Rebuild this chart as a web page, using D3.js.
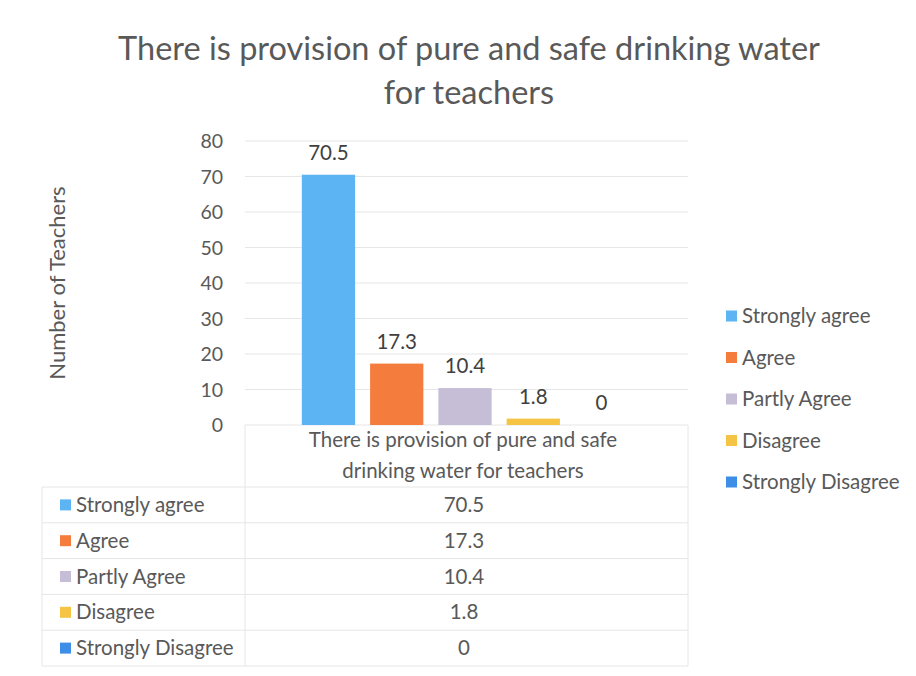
<!DOCTYPE html>
<html>
<head>
<meta charset="utf-8">
<script src="https://cdn.jsdelivr.net/npm/d3@7"></script>
<style>
  body { margin: 0; background: #fff; }
  text { font-family: Lato, "Open Sans", sans-serif; fill: #595959; }
</style>
</head>
<body>
<div id="chart"></div>
<script>
// chart data
var categories = ["Strongly agree", "Agree", "Partly Agree", "Disagree", "Strongly Disagree"];
var values = [70.5, 17.3, 10.4, 1.8, 0];
var colours = ["#5cb4f2", "#f47d3d", "#c6bed6", "#f6c444", "#3d8ee6"];
var yTicks = [0, 10, 20, 30, 40, 50, 60, 70, 80];
var groupLabel = ["There is provision of pure and safe", "drinking water for teachers"];
var titleLines = ["There is provision of pure and safe drinking water", "for teachers"];

var width = 916, height = 676;
var plot = {left: 245, right: 688, top: 141, bottom: 425};

var svg = d3.select("#chart").append("svg")
  .attr("width", width)
  .attr("height", height);

// title
svg.append("g").selectAll("text")
  .data(titleLines)
  .enter().append("text")
  .attr("x", 469)
  .attr("y", function(d, i) { return 60 + i * 44; })
  .attr("text-anchor", "middle")
  .style("font-size", "32.5px")
  .text(function(d) { return d; });

var y = d3.scaleLinear().domain([0, 80]).range([plot.bottom, plot.top]);

var x = d3.scaleBand()
  .domain(categories)
  .range([295, 635])
  .paddingInner(0.22)
  .paddingOuter(0.1);

// gridlines
svg.append("g").selectAll("line")
  .data(yTicks)
  .enter().append("line")
  .attr("x1", plot.left).attr("x2", plot.right)
  .attr("y1", function(d) { return y(d); })
  .attr("y2", function(d) { return y(d); })
  .attr("stroke", "#e6e6e6");

// y axis labels
var yAxis = d3.axisLeft(y).tickValues(yTicks).tickSize(0).tickPadding(0);
var ya = svg.append("g")
  .attr("transform", "translate(223,0)")
  .call(yAxis);
ya.select(".domain").remove();
ya.selectAll("text").style("font-size", "19.5px").attr("fill", "#595959").attr("dy", "0.35em")
  .style("font-family", "Lato, 'Open Sans', sans-serif");

svg.append("text")
  .attr("transform", "translate(65,283) rotate(-90)")
  .attr("text-anchor", "middle")
  .style("font-size", "22px")
  .text("Number of Teachers");

// bars
svg.append("g").selectAll("rect")
  .data(values)
  .enter().append("rect")
  .attr("x", function(d, i) { return x(categories[i]); })
  .attr("width", x.bandwidth())
  .attr("y", function(d) { return y(d); })
  .attr("height", function(d) { return y(0) - y(d); })
  .attr("fill", function(d, i) { return colours[i]; });

svg.append("g").selectAll("text")
  .data(values)
  .enter().append("text")
  .attr("x", function(d, i) { return x(categories[i]) + x.bandwidth() / 2; })
  .attr("y", function(d) { return y(d) - 15; })
  .attr("text-anchor", "middle")
  .style("font-size", "20.5px")
  .style("fill", "#404040")
  .text(function(d) { return d; });

// data table
var rowH = 35.8;
var tableTop = 487;
var tableLeft = 42;
var grid = svg.append("g").attr("stroke", "#e6e6e6").attr("fill", "none");
grid.append("line").attr("x1", plot.left).attr("x2", plot.left).attr("y1", plot.bottom).attr("y2", tableTop + rowH * 5);
grid.append("line").attr("x1", plot.right).attr("x2", plot.right).attr("y1", plot.bottom).attr("y2", tableTop + rowH * 5);
grid.append("line").attr("x1", tableLeft).attr("x2", tableLeft).attr("y1", tableTop).attr("y2", tableTop + rowH * 5);
d3.range(6).forEach(function(i) {
  grid.append("line").attr("x1", tableLeft).attr("x2", plot.right)
    .attr("y1", tableTop + i * rowH).attr("y2", tableTop + i * rowH);
});

svg.append("g").selectAll("text")
  .data(groupLabel)
  .enter().append("text")
  .attr("x", 463)
  .attr("y", function(d, i) { return 447 + i * 31; })
  .attr("text-anchor", "middle")
  .style("font-size", "20.5px")
  .text(function(d) { return d; });

var rows = svg.append("g").selectAll("g")
  .data(categories)
  .enter().append("g")
  .attr("transform", function(d, i) { return "translate(0," + (tableTop + i * rowH + rowH / 2) + ")"; });
rows.append("rect")
  .attr("x", 60).attr("y", -5.5).attr("width", 11).attr("height", 11)
  .attr("fill", function(d, i) { return colours[i]; });
rows.append("text")
  .attr("x", 76).attr("dy", "0.35em")
  .style("font-size", "20.5px")
  .text(function(d) { return d; });
rows.append("text")
  .attr("x", 464).attr("dy", "0.35em")
  .attr("text-anchor", "middle")
  .style("font-size", "20.5px")
  .text(function(d, i) { return values[i]; });

// legend
var legend = svg.append("g").selectAll("g")
  .data(categories)
  .enter().append("g")
  .attr("transform", function(d, i) { return "translate(726," + (316 + i * 41.5) + ")"; });
legend.append("rect")
  .attr("x", 0).attr("y", -5.5).attr("width", 11).attr("height", 11)
  .attr("fill", function(d, i) { return colours[i]; });
legend.append("text")
  .attr("x", 16).attr("dy", "0.35em")
  .style("font-size", "20.5px")
  .text(function(d) { return d; });
</script>
</body>
</html>
